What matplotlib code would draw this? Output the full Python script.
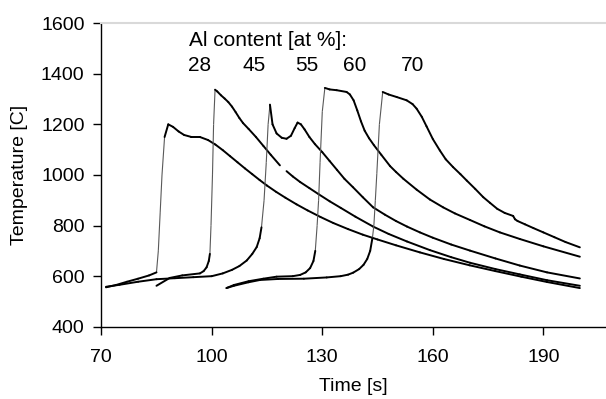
import numpy as np
import matplotlib
matplotlib.use("Agg")
import matplotlib.pyplot as plt
from matplotlib.collections import LineCollection

plt.rcParams["font.family"] = ["Liberation Sans", "DejaVu Sans"]

# Al content labels [at %] and where they sit above the curves
labels = ["28", "45", "55", "60", "70"]
label_t = [96.8, 111.4, 125.8, 138.8, 154.6]

# read-off curves: time [s], temperature [C]
t28 = [71.3, 74, 77, 80, 83, 85.0, 85.5, 86.0, 86.5, 87.2, 88.2, 89.5, 91, 92.5, 94.5,
       96.8, 99, 101, 103, 105, 107, 109, 111, 113, 115, 117.5, 120, 123, 126, 129.5,
       133, 137, 141, 145, 150, 156.5, 163, 170, 177, 184, 191, 199.9]
T28 = [556, 565, 578, 590, 603, 615, 700, 850, 1000, 1150, 1200, 1190, 1172, 1158, 1150,
       1150, 1138, 1120, 1098, 1074, 1050, 1026, 1003, 980, 958, 933, 910, 884, 860, 834,
       810, 786, 764, 745, 722, 694, 668, 643, 620, 598, 577, 553]

t45 = [85, 88.6, 92, 96.8, 97.8, 98.6, 99.2, 99.5, 99.8, 100.2, 100.5, 100.9, 101.5,
       102.5, 103.5, 104.5, 105.5, 106.5, 107.5, 108.5, 110, 112, 114, 116, 118.5, np.nan,
       120.3, 122, 124, 126.5, 129, 132, 135, 139, 143.8, 148, 153, 159.2, 165, 170.1,
       177, 183.6, 191, 199.9]
T45 = [562, 593, 603, 611, 620, 635, 660, 688, 800, 1000, 1200, 1337, 1330,
       1315, 1302, 1288, 1270, 1248, 1225, 1205, 1182, 1150, 1115, 1080, 1038, np.nan,
       1015, 994, 972, 948, 924, 896, 870, 835, 796, 767, 737, 703, 675, 653,
       628, 607, 584, 562]

t55 = [71.3, 75, 80, 85, 90, 95, 100, 103, 105.5, 107.5, 109.5, 111, 112.2, 113, 113.5,
       114.2, 114.8, 115.3, 115.8, 116.5, 117.6, 119, 120.3, 121.5, 122.5, 123.3, 124.2,
       125.2, 126.5, 128, 130, 132, 134, 136, 138.3, 141, 143.8, 147, 150, 153, 156.5,
       160, 165, 170.1, 177, 183.6, 191, 199.9]
T55 = [558, 566, 578, 588, 592, 596, 600, 611, 625, 640, 662, 688, 715, 750, 793,
       900, 1050, 1200, 1278, 1200, 1164, 1147, 1143, 1155, 1185, 1207, 1200,
       1180, 1150, 1122, 1090, 1055, 1020, 985, 952, 912, 872, 843, 818, 796, 773,
       752, 725, 701, 670, 642, 615, 591]

t60 = [104, 106, 110, 114, 117.6, 122, 124, 125.5, 126.7, 127.6, 128.1, 128.6, 129,
       129.4, 130, 130.7, 132, 133.9, 136.6, 137.5, 138.5, 139.5, 140.5, 141.5, 142.7,
       144, 146, 148.4, 150, 152, 155.6, 159.2, 162.8, 166, 170.1, 174, 178.2, 183.6,
       190, 199.9]
T60 = [553, 565, 580, 590, 598, 600, 605, 615, 632, 660, 700, 800, 900,
       1050, 1250, 1344, 1338, 1335, 1328, 1318, 1295, 1255, 1212, 1175, 1145,
       1118, 1080, 1035, 1012, 985, 942, 903, 872, 848, 822, 797, 773, 747,
       718, 677]

t70 = [104, 106, 110, 113.1, 118, 125, 131.2, 135, 137, 138.4, 140, 141.2, 142.2, 143,
       143.6, 144, 144.4, 144.8, 145.5, 146.4, 148, 150.2, 152.9, 154.5, 155.6, 157,
       158.3, 160, 161.9, 163.5, 165.5, 167.5, 169.2, 171.5, 173.7, 175.5, 177.5, 179.5,
       181.8, 182.3, 183, 185, 187.3, 190, 193, 196, 199.9]
T70 = [553, 562, 576, 585, 589, 590, 595, 600, 606, 614, 628, 645, 668, 700,
       750, 800, 900, 1005, 1200, 1328, 1318, 1308, 1295, 1280, 1262, 1230,
       1192, 1142, 1097, 1062, 1031, 1003, 978, 945, 912, 890, 866, 850,
       838, 825, 818, 805, 790, 773, 754, 735, 714]

curves = [(t28, T28), (t45, T45), (t55, T55), (t60, T60), (t70, T70)]

fig = plt.figure(figsize=(6.06, 3.99), dpi=100)
ax = fig.add_axes([0.167, 0.181, 0.833, 0.761])

for t, T in curves:
    pts = np.column_stack([t, T])
    segs = np.stack([pts[:-1], pts[1:]], axis=1)
    dt = np.diff(pts[:, 0])
    dT = np.diff(pts[:, 1])
    with np.errstate(invalid="ignore", divide="ignore"):
        steep = np.abs(dT / dt) > 120
    # the fast heating jumps come out thin and grey in the original
    ax.add_collection(LineCollection(segs[steep], linewidths=0.8, colors="0.35"))
    ax.add_collection(LineCollection(segs[~steep], linewidths=1.4, colors="black",
                                     capstyle="round", joinstyle="round"))

ax.text(93.9, 1533, "Al content [at %]:", fontsize=15, va="center", ha="left")
for lab, x in zip(labels, label_t):
    ax.text(x, 1434, lab, fontsize=15, va="center", ha="center")

ax.set_xlim(70, 207)
ax.set_ylim(400, 1600)
ax.set_xticks([70, 100, 130, 160, 190])
ax.set_yticks(range(400, 1601, 200))
ax.tick_params(axis="both", labelsize=14, length=6, width=1, direction="out")
ax.tick_params(axis="x", pad=10)
ax.tick_params(axis="y", pad=6)

ax.spines["right"].set_visible(False)
ax.spines["top"].set_color("#d9d9d9")
ax.spines["top"].set_linewidth(1.5)
for s in ("left", "bottom"):
    ax.spines[s].set_linewidth(1.0)

ax.set_xlabel("Time [s]", fontsize=14)
ax.set_ylabel("Temperature [C]", fontsize=14)
ax.xaxis.set_label_coords(0.5, -0.17)
ax.yaxis.set_label_coords(-0.145, 0.5)

fig.savefig("out.png", dpi=100)
